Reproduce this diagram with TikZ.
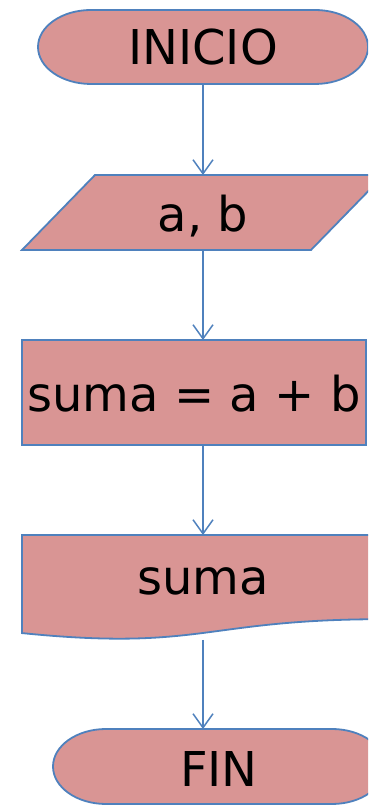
\documentclass[tikz,border=0pt]{standalone}
\usepackage{fontspec}
\setmainfont{DejaVu Sans}
\usetikzlibrary{arrows.meta}
\definecolor{shapefill}{HTML}{D99594}
\definecolor{shapeline}{HTML}{4F81BD}
\begin{document}
\begin{tikzpicture}[x=1pt,y=1pt,
  shapeborder/.style={draw=shapeline, fill=shapefill, line width=1.8pt},
  txt/.style={font=\fontsize{48}{58}\selectfont, text depth=0pt, inner sep=0pt, outer sep=0pt},
  conn/.style={draw=shapeline, line width=1.5pt, -{Straight Barb[length=14pt,width=20pt]}}]
\clip (0,0) rectangle (368,805);
% INICIO terminator
\draw[shapeborder] (91,795) -- (315,795)
  arc[start angle=90,end angle=-90,x radius=53,y radius=37] -- (91,721)
  arc[start angle=270,end angle=90,x radius=53,y radius=37] -- cycle;
\node[txt, text height=36pt, minimum width=330pt, minimum height=74pt] (inicio) at (203,758) {INICIO};
% a, b parallelogram
\draw[shapeborder] (95,630) -- (384,630) -- (311,555) -- (22,555) -- cycle;
\node[txt, text height=38.4pt, minimum width=289pt, minimum height=75pt] (ab) at (203,592.5) {a, b};
% suma = a + b process
\node[txt, shapeborder, text height=39pt, minimum width=344pt, minimum height=105pt] (sum) at (194,412.5) {suma = a + b};
% suma document
\draw[shapeborder] (22,270) -- (384,270) -- (384,185.8)
  .. controls (203,185.8) and (203,153.7) .. (22,171.9) -- cycle;
\node[txt, text height=36pt, minimum width=362pt, minimum height=84pt] (doc) at (203,228) {suma};
\coordinate (docout) at (203,165);
% FIN terminator
\draw[shapeborder] (106,76) -- (332,76)
  arc[start angle=90,end angle=-90,x radius=53,y radius=37.5] -- (106,1)
  arc[start angle=270,end angle=90,x radius=53,y radius=37.5] -- cycle;
\node[txt, text height=41pt, minimum width=332pt, minimum height=75pt] (fin) at (219,38.5) {FIN};
% connectors
\draw[conn] (inicio.south) -- (ab.north);
\draw[conn] (ab.south) -- (ab.south |- sum.north);
\draw[conn] (doc.north |- sum.south) -- (doc.north);
\draw[conn] (docout) -- (docout |- fin.north);
\end{tikzpicture}
\end{document}
